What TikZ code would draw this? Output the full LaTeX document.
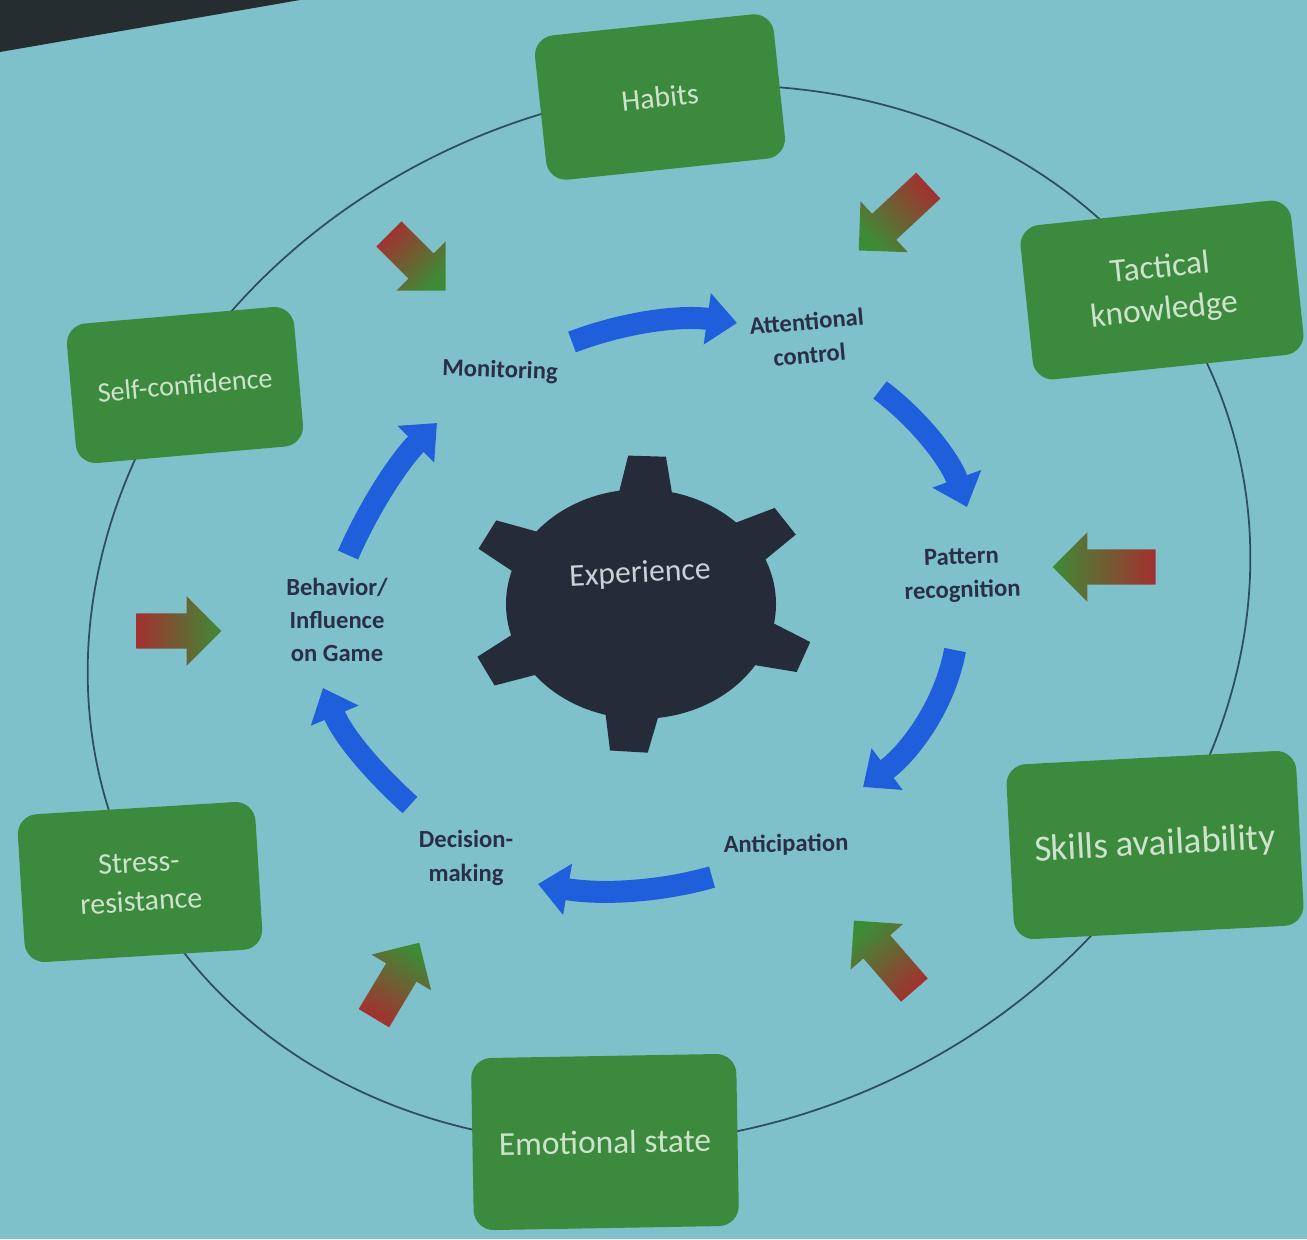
\documentclass[tikz,border=0pt]{standalone}
\usepackage{fontspec}
\setmainfont{Carlito}
\usetikzlibrary{arrows.meta,shapes.arrows}

\definecolor{slide}{HTML}{7FC1CA}
\definecolor{framedark}{HTML}{262D31}
\definecolor{boxgreen}{HTML}{3B8A3E}
\definecolor{boxtext}{HTML}{CFE3CC}
\definecolor{ringline}{HTML}{2C4E5E}
\definecolor{cycleblue}{HTML}{1F5FDB}
\definecolor{labelink}{HTML}{2A2F48}
\definecolor{gearfill}{HTML}{262B3A}
\definecolor{geartext}{HTML}{C9D2D6}
\definecolor{tailred}{HTML}{A3302F}
\definecolor{headgreen}{HTML}{3E8B36}

\begin{document}
\begin{tikzpicture}[x=0.01cm, y=-0.01cm,
  factor/.style={fill=boxgreen, rounded corners=0.2cm, text=boxtext, align=center,
    inner sep=0pt, font=\fontsize{9.5}{12}\selectfont},
  stage/.style={text=labelink, align=center, inner sep=1pt,
    font=\bfseries\fontsize{7}{9.5}\selectfont},
  flow/.style={draw=cycleblue, line width=0.22cm, -{Triangle[width=0.5cm,length=0.3cm]}},
  % block arrow pointing at angle #1, shaded from red tail to green head
  push/.style={single arrow, inner sep=0.17cm, single arrow head extend=0.17cm,
    draw=none, rotate=#1, top color=tailred, bottom color=headgreen,
    shading angle=#1+90}]

\useasboundingbox (0,0) rectangle (1307,1239);
\fill[slide] (0,0) rectangle (1307,1239);
\fill[framedark] (0,0) -- (300,0) -- (0,52) -- cycle;

% outer ring of influencing factors
\draw[ringline, line width=0.5pt, rotate around={24.5:(669,615)}]
  (669,615) ellipse [x radius=594, y radius=515];

% factor boxes
\node[factor, minimum width=2.4cm, minimum height=1.45cm, rotate=6, font=\fontsize{8.5}{10}\selectfont] (habits) at (660,97) {Habits};
\node[factor, minimum width=2.72cm, minimum height=1.55cm, rotate=6] (tactical) at (1162,290) {Tactical\\knowledge};
\node[factor, minimum width=2.28cm, minimum height=1.4cm, rotate=5, font=\fontsize{8}{10}\selectfont] (selfconf) at (185,385) {Self-confidence};
\node[factor, minimum width=2.38cm, minimum height=1.48cm, rotate=3.5, font=\fontsize{8.5}{11}\selectfont] (stress) at (140,882) {Stress-\\resistance};
\node[factor, minimum width=2.65cm, minimum height=1.72cm, rotate=1] (emotional) at (605,1142) {Emotional state};
\node[factor, minimum width=2.9cm, minimum height=1.75cm, rotate=3, font=\fontsize{10.5}{12}\selectfont] (skills) at (1155,845) {Skills availability};

% central gear
\begin{scope}[shift={(641,604)}, x=0.01cm, y=0.0085cm]
  \fill[gearfill] (0,0) circle [radius=135];
  \foreach \a in {88,34,-21,-94,207,152}
    \fill[gearfill] ({\a-14}:120) -- ({\a-6.2}:175) -- ({\a+6.2}:175) -- ({\a+14}:120) -- cycle;
\end{scope}
\node[text=geartext, font=\fontsize{9}{11}\selectfont, rotate=3] (exp) at (640,574) {Experience};

% stages of the cycle
\node[stage, rotate=-2] (monitor) at (500,371) {Monitoring};
\node[stage, rotate=5] (attn) at (808,338) {Attentional\\control};
\node[stage, rotate=2] (pattern) at (962,575) {Pattern\\recognition};
\node[stage, rotate=1] (antic) at (786,845) {Anticipation};
\node[stage] (decision) at (466,858) {Decision-\\making};
\node[stage] (behav) at (337,620) {Behavior/\\Influence\\on Game};

% ends of the cycle arrows
\coordinate (m-out) at (572,342);  \coordinate (a-in) at (737,323);
\coordinate (a-out) at (880,390);  \coordinate (p-in) at (967,507);
\coordinate (p-out) at (955,650);  \coordinate (n-in) at (863,787);
\coordinate (n-out) at (712,877);  \coordinate (d-in) at (538,884);
\coordinate (d-out) at (410,805);  \coordinate (b-in) at (323,688);
\coordinate (b-out) at (348,555);  \coordinate (m-in) at (437,423);

\draw[flow] (m-out) .. controls (625,322) and (680,315) .. (a-in);
\draw[flow] (a-out) .. controls (920,420) and (950,460) .. (p-in);
\draw[flow] (p-out) .. controls (945,705) and (910,752) .. (n-in);
\draw[flow] (n-out) .. controls (660,892) and (600,895) .. (d-in);
\draw[flow] (d-out) .. controls (380,778) and (345,740) .. (b-in);
\draw[flow] (b-out) .. controls (370,505) and (400,460) .. (m-in);

% influence arrows from the factors
\node[push=-45, minimum height=0.8cm] (p1) at (411,256) {};
\node[push=-137, minimum height=0.95cm] (p2) at (900,212) {};
\node[push=180, minimum height=1.03cm] (p3) at (1113,567) {};
\node[push=131, minimum height=0.92cm] (p4) at (890,962) {};
\node[push=59, minimum height=0.88cm] (p5) at (392,988) {};
\node[push=0, minimum height=0.85cm] (p6) at (170,631) {};
\end{tikzpicture}
\end{document}
